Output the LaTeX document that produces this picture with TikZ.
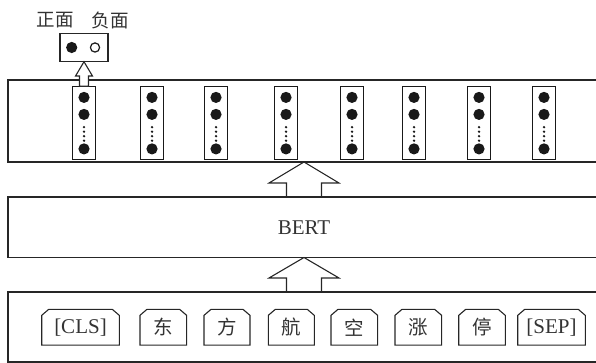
\documentclass[tikz,border=0pt]{standalone}
\usepackage{fontspec}
\setmainfont{Liberation Serif}
\newfontfamily\cjk{Noto Sans CJK SC}
\usetikzlibrary{calc}
\begin{document}
\begin{tikzpicture}[x=1pt,y=-1pt,line width=1.1pt,
  every node/.style={inner sep=0pt,outer sep=0pt},
  layer/.style={draw=black!85,rectangle,minimum width=592pt},
  colbox/.style={draw=black!90,rectangle,minimum width=23pt,minimum height=73pt},
  tokbox/.style={rectangle,minimum height=35.7pt,font=\fontsize{21}{21}\selectfont,text=black!80},
  tokline/.style={draw=black!85,line join=miter},
  bigarrow/.style={draw=black!85,line join=miter},
  smallarrow/.style={draw=black!85,fill=white,line join=miter},
  lbl/.style={font=\cjk\fontsize{18.5}{18.5}\selectfont,text=black!80}]
\useasboundingbox (0,0) rectangle (596,363);
\clip (0,0) rectangle (596,363);

% layers
\node[layer,minimum height=82pt] (enc) at (304,121) {};
\node[layer,minimum height=60.5pt,font=\fontsize{21}{21}\selectfont,text=black!80] (bert) at (304,227.25) {BERT};
\node[layer,minimum height=70pt] (inp) at (304,327) {};

% output columns
\foreach \x [count=\i] in {84,152,216,286,352,414,479,544} {
  \node[colbox] (c\i) at (\x,122.7) {};
  \fill[black!90] ($(c\i.north)+(0,11.2)$) circle[radius=5.6pt];
  \fill[black!90] ($(c\i.north)+(0,28.2)$) circle[radius=5.6pt];
  \fill[black!90] ($(c\i.north)+(0,62.7)$) circle[radius=5.6pt];
  \foreach \d in {41,45.5,50,54.5}
    \fill[black!90] ($(c\i.north)+(0,\d)$) circle[radius=1.3pt];
}

% output box
\node[draw=black!85,rectangle,minimum width=48pt,minimum height=28.5pt] (out) at (84,47.5) {};
\fill[black!90] ($(out.center)+(-12.3,0)$) circle[radius=5.6pt];
\draw[black!90,line width=1.2pt] ($(out.center)+(11,0)$) circle[radius=4.6pt];
\node[lbl] (pos) at (55,20) {正面};
\node[lbl] (neg) at (110,20) {负面};

% small arrow
\draw[smallarrow] (out.south) -- ++(8.5,14.3) -- ++(-4,0)
  -- ($(c1.north)+(4.5,0)$) -- ($(c1.north)+(-4.5,0)$)
  -- ($(out.south)+(-4.5,14.3)$) -- ++(-4,0) -- cycle;

% big arrows
\draw[bigarrow] (enc.south) -- ++(35,21) -- ++(-17.5,0)
  -- ($(bert.north)+(17.5,0)$) -- ($(bert.north)+(-17.5,0)$)
  -- ($(enc.south)+(-17.5,21)$) -- ++(-17.5,0) -- cycle;
\draw[bigarrow] (bert.south) -- ++(35,20.5) -- ++(-17.5,0)
  -- ($(inp.north)+(17.5,0)$) -- ($(inp.north)+(-17.5,0)$)
  -- ($(bert.south)+(-17.5,20.5)$) -- ++(-17.5,0) -- cycle;

% tokens
\foreach \x/\w/\t [count=\i] in {80.5/77.6/{[CLS]},163.3/46.7/{\cjk\fontsize{19.5}{19.5}\selectfont 东},227/46/{\cjk\fontsize{19.5}{19.5}\selectfont 方},291.3/46/{\cjk\fontsize{19.5}{19.5}\selectfont 航},354.3/46.7/{\cjk\fontsize{19.5}{19.5}\selectfont 空},418.3/46.7/{\cjk\fontsize{19.5}{19.5}\selectfont 涨},482/46.6/{\cjk\fontsize{19.5}{19.5}\selectfont 停},551.5/67.6/{[SEP]}} {
  \node[tokbox,minimum width=\w pt] (t\i) at (\x,327.2) {\t};
  \draw[tokline] (t\i.south west) -- ($(t\i.north west)+(0,6)$) -- ($(t\i.north west)+(7,0)$)
    -- ($(t\i.north east)+(-7,0)$) -- ($(t\i.north east)+(0,6)$) -- (t\i.south east) -- cycle;
}
\end{tikzpicture}
\end{document}
